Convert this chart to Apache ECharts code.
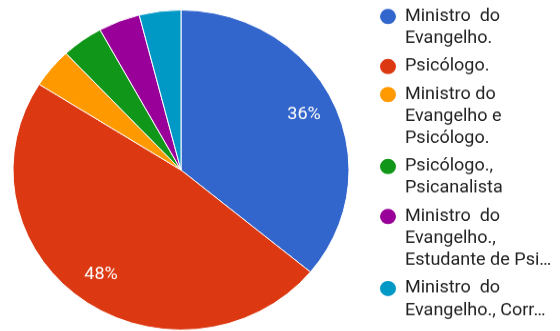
<!DOCTYPE html>
<html>
<head>
<meta charset="utf-8">
<script src="https://cdn.jsdelivr.net/npm/echarts@6/dist/echarts.min.js"></script>
<style>
  html, body { margin: 0; padding: 0; background: #fff; overflow: hidden; }
  #wrap { width: 560px; height: 331px; overflow: hidden; }
  /* the chart is laid out slightly taller and squeezed back to 331px,
     which gives the pie its flattened shape */
  #chart { width: 560px; height: 348px; transform: scaleY(0.9524); transform-origin: 0 0; }
</style>
</head>
<body>
<div id="wrap"><div id="chart"></div></div>
<script>
// Categories (legend labels) and answer counts
const categories = [
  'Ministro  do\nEvangelho.',
  'Psicólogo.',
  'Ministro do\nEvangelho e\nPsicólogo.',
  'Psicólogo.,\nPsicanalista',
  'Ministro  do\nEvangelho.,\nEstudante de Psi…',
  'Ministro  do\nEvangelho., Corr…'
];
const counts = [9, 12, 1, 1, 1, 1];
const colors = ['#3366cc', '#dc3912', '#ff9900', '#109618', '#990099', '#0099c6'];

const SY = 0.9524;             // vertical squeeze applied to the container
const FONT = 'Roboto, "Noto Sans", sans-serif';
const LH = 22 / SY;            // legend line height
const GAP = 6 / SY;            // extra space between legend entries
const total = counts.reduce((a, b) => a + b, 0);

const data = categories.map((name, i) => ({ name, value: counts[i] }));

// One legend block per entry. Blank lines are put in front of the label so
// that the vertically centred text has its first line level with the dot.
const legends = [];
let cy = 16.5 / SY;
categories.forEach((name) => {
  const n = name.split('\n').length;
  legends.push({
    orient: 'vertical',
    left: 378,
    top: cy - (2 * n - 1) * LH / 2,
    padding: 0,
    icon: 'circle',
    itemWidth: 18,
    itemHeight: 18,
    data: [name],
    formatter: (label) => '\n'.repeat(n - 1) + label,
    textStyle: {
      fontFamily: FONT,
      fontSize: 18,
      lineHeight: LH,
      color: '#222',
      padding: [0, 0, 0, 3],
      backgroundColor: 'rgba(255,255,255,0)'
    }
  });
  cy += n * LH + GAP;
});

const center = [181, 170 / SY];

const chart = echarts.init(document.getElementById('chart'), null, { renderer: 'canvas' });
chart.setOption({
  animation: false,
  color: colors,
  legend: legends,
  series: [
    {
      type: 'pie',
      center,
      radius: 168,
      startAngle: 90,
      clockwise: true,
      data,
      label: { show: false },
      labelLine: { show: false },
      itemStyle: { borderColor: '#fff', borderWidth: 1 },
      emphasis: { scale: false }
    },
    {
      // transparent ring that only carries the percentage labels
      type: 'pie',
      center,
      radius: [98, 168],
      startAngle: 90,
      clockwise: true,
      silent: true,
      percentPrecision: 0,
      data: data.map(d => ({
        name: d.name,
        value: d.value,
        label: { show: d.value / total >= 0.1 }
      })),
      itemStyle: { color: 'rgba(0,0,0,0)' },
      label: {
        position: 'inside',
        formatter: '{d}%',
        color: '#fff',
        fontFamily: FONT,
        fontSize: 18
      },
      labelLine: { show: false },
      emphasis: { disabled: true }
    }
  ]
});
</script>
</body>
</html>
